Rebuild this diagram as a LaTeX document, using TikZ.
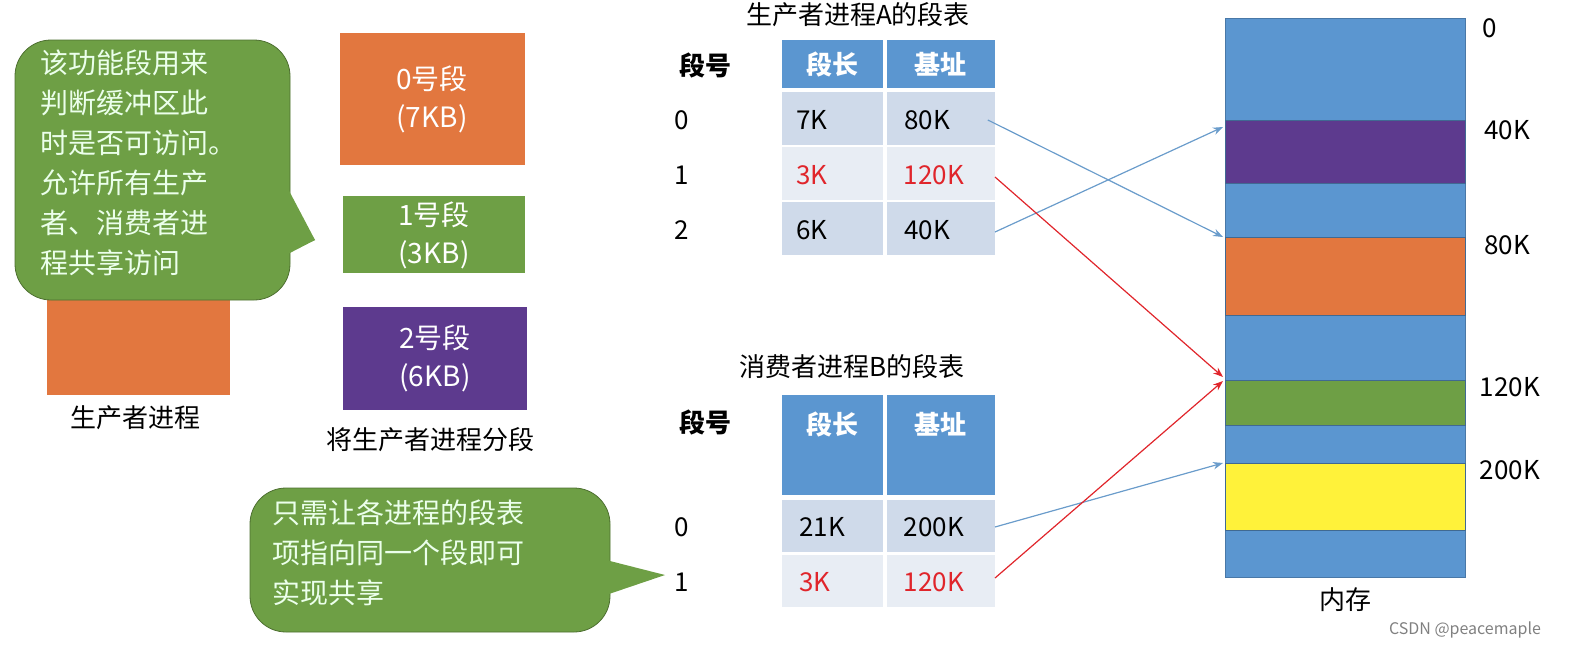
\documentclass[tikz,border=0pt]{standalone}
\usepackage{fontspec}
\setmainfont{Noto Sans CJK SC}
\usetikzlibrary{arrows.meta}
\definecolor{mblue}{HTML}{5B96D0}
\definecolor{morange}{HTML}{E2773F}
\definecolor{mgreen}{HTML}{6E9F45}
\definecolor{mpurple}{HTML}{5D3A8E}
\definecolor{myellow}{HTML}{FFF23A}
\definecolor{rowa}{HTML}{CFDAEA}
\definecolor{rowb}{HTML}{E8EDF4}
\definecolor{tred}{HTML}{E0252B}
\definecolor{abl}{HTML}{6A9CCB}
\tikzset{
 blk/.style={inner sep=0pt,outer sep=0pt},
 seg/.style={blk,align=center,text=white,font=\fontsize{14}{19}\selectfont},
 cell/.style={blk,font=\fontsize{13}{16}\selectfont},
 hdr/.style={blk,fill=mblue,text=white,font=\fontsize{13}{16}\selectfont\bfseries},
 lbl/.style={font=\fontsize{13}{16}\selectfont},
 callout/.style={fill=mgreen,draw=mgreen!70!black,rounded corners=18pt},
 barrow/.style={draw=abl,-{Stealth[length=5pt]},line width=0.6pt},
 rarrow/.style={draw=tred,-{Stealth[length=5pt]},line width=0.6pt},
}
\begin{document}
\begin{tikzpicture}[x=0.5pt,y=-0.5pt]
\useasboundingbox (0,0) rectangle (1590,659);
% producer
\fill[morange] (47,200) rectangle (230,395);
\node[lbl] (prod) at (135,418) {生产者进程};
% callout 1
\fill[mgreen] (270,180) -- (315,240) -- (270,260) -- cycle;
\draw[callout] (15,40) rectangle (290,300);
\fill[mgreen] (286,185) -- (315,240) -- (286,255) -- cycle;
\node[blk,anchor=north west,align=left,text=white!92!green,font=\fontsize{14}{20}\selectfont] (c1) at (40,50) {该功能段用来\\判断缓冲区此\\时是否可访问。\\允许所有生产\\者、消费者进\\程共享访问};
% segments
\node[seg,fill=morange,minimum width=185\pgflinewidth] (s0) at (432,99) {};
\fill[morange] (340,33) rectangle (525,165);
\node[seg] at (432,99) {0号段\\(7KB)};
\fill[mgreen] (343,196) rectangle (525,273);
\node[seg] (s1) at (434,235) {1号段\\(3KB)};
\fill[mpurple] (343,307) rectangle (527,410);
\node[seg] (s2) at (435,358) {2号段\\(6KB)};
\node[lbl] (split) at (430,440) {将生产者进程分段};
% table A
\node[lbl] (ta) at (858,15) {生产者进程A的段表};
\node[lbl,font=\fontsize{13}{16}\selectfont\bfseries] (na) at (705,65) {段号};
\fill[mblue] (782,40) rectangle (883,88); \fill[mblue] (887,40) rectangle (995,88);
\node[hdr] (ha1) at (832,64) {段长}; \node[hdr] (ha2) at (940,64) {基址};
\fill[rowa] (782,92) rectangle (883,145); \fill[rowa] (887,92) rectangle (995,145);
\fill[rowb] (782,147) rectangle (883,200); \fill[rowb] (887,147) rectangle (995,200);
\fill[rowa] (782,202) rectangle (883,255); \fill[rowa] (887,202) rectangle (995,255);
\node[cell] (a0i) at (682,120) {0}; \node[cell] (a0l) at (812,120) {7K}; \node[cell] (a0b) at (927,120) {80K};
\node[cell] (a1i) at (682,175) {1}; \node[cell,text=tred] (a1l) at (812,175) {3K}; \node[cell,text=tred] (a1b) at (934,175) {120K};
\node[cell] (a2i) at (682,230) {2}; \node[cell] (a2l) at (812,230) {6K}; \node[cell] (a2b) at (927,230) {40K};
% table B
\node[lbl] (tb) at (852,367) {消费者进程B的段表};
\node[lbl,font=\fontsize{13}{16}\selectfont\bfseries] (nb) at (705,422) {段号};
\fill[mblue] (782,395) rectangle (883,495); \fill[mblue] (887,395) rectangle (995,495);
\node[hdr] (hb1) at (832,424) {段长}; \node[hdr] (hb2) at (940,424) {基址};
\fill[rowa] (782,500) rectangle (883,552); \fill[rowa] (887,500) rectangle (995,552);
\fill[rowb] (782,555) rectangle (883,607); \fill[rowb] (887,555) rectangle (995,607);
\node[cell] (b0i) at (682,527) {0}; \node[cell] (b0l) at (822,527) {21K}; \node[cell] (b0b) at (934,527) {200K};
\node[cell] (b1i) at (682,582) {1}; \node[cell,text=tred] (b1l) at (815,582) {3K}; \node[cell,text=tred] (b1b) at (934,582) {120K};
% callout 2
\draw[callout] (250,488) rectangle (610,632);
\fill[mgreen] (606,560) -- (665,575) -- (606,595) -- cycle;
\node[blk,anchor=north west,align=left,text=white!92!green,font=\fontsize{14}{20}\selectfont] (c2) at (272,500) {只需让各进程的段表\\项指向同一个段即可\\实现共享};
% memory
\draw[mblue!80!black,fill=mblue] (1225,18) rectangle (1465,577);
\draw[mblue!70!black,fill=mpurple] (1225,120) rectangle (1465,183);
\draw[mblue!70!black,fill=morange] (1225,237) rectangle (1465,315);
\draw[mblue!70!black,fill=mgreen] (1225,380) rectangle (1465,425);
\draw[mblue!70!black,fill=myellow] (1225,463) rectangle (1465,530);
\coordinate (m40) at (1223,127);
\coordinate (m80) at (1223,237);
\coordinate (m120a) at (1223,377);
\coordinate (m120b) at (1223,381);
\coordinate (m200) at (1223,463);
\node[lbl] (k0) at (1490,28) {0};
\node[lbl] (k40) at (1507,130) {40K};
\node[lbl] (k80) at (1507,245) {80K};
\node[lbl] (k120) at (1510,387) {120K};
\node[lbl] (k200) at (1510,470) {200K};
\node[lbl] (mem) at (1345,600) {内存};
\node[font=\fontsize{8}{10}\selectfont,text=gray] (wm) at (1465,630) {CSDN @peacemaple};
% arrows
\draw[barrow] (a0b.east)+(38,0) -- (m80);
\draw[barrow] (995,232) -- (m40);
\draw[barrow] (995,527) -- (m200);
\draw[rarrow] (995,177) -- (m120a);
\draw[rarrow] (995,578) -- (m120b);
\end{tikzpicture}
\end{document}
